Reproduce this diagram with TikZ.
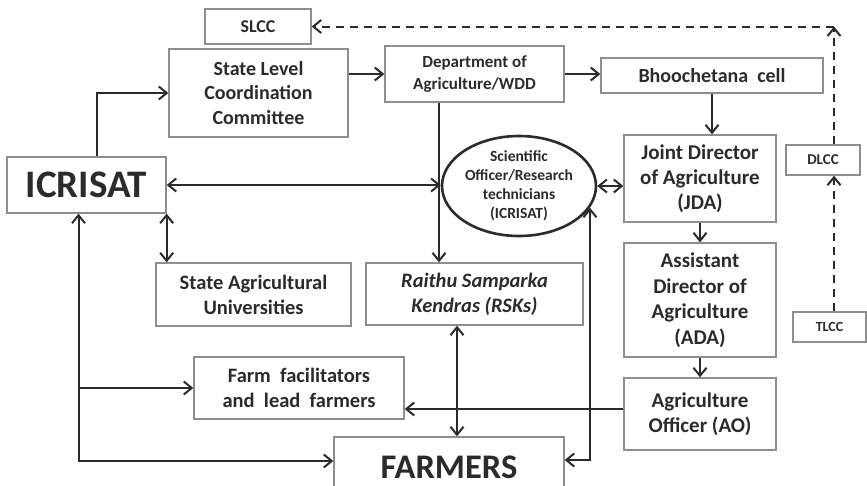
\documentclass[tikz,border=0pt]{standalone}
\usepackage{fontspec}
\setmainfont{Carlito}
\usetikzlibrary{arrows.meta,shapes.geometric}
\definecolor{ink}{HTML}{2B2B2B}
\definecolor{rim}{HTML}{8E8E8E}
\begin{document}
\begin{tikzpicture}[x=1pt,y=-1pt,>={Straight Barb[length=8pt,width=13pt]},
	box/.style={draw=rim,line width=1.3pt,text=ink,align=center,inner sep=0pt},
	txt/.style 2 args={font=\bfseries\fontsize{#1}{#2}\selectfont},
	link/.style={draw=ink,line width=2pt},
	dlink/.style={link,dash pattern=on 8pt off 6pt}]
	\useasboundingbox (0,0) rectangle (867,485);
	\node[box,txt={18}{21},minimum width=106,minimum height=35] (slcc) at (258,26.5) {SLCC};
	\node[box,txt={20}{24.5},minimum width=179,minimum height=88] (slc) at (258.5,93) {State Level\\Coordination\\Committee};
	\node[box,txt={17}{22.5},minimum width=179,minimum height=56] (doa) at (474.5,74) {Department of\\Agriculture/WDD};
	\node[box,txt={20}{24},minimum width=222,minimum height=35] (bhoo) at (712,75.5) {Bhoochetana\ \ cell};
	\node[box,txt={39}{44},minimum width=159,minimum height=56] (icrisat) at (86.5,185) {ICRISAT};
	\node[ellipse,draw=ink,line width=2.6pt,text=ink,align=center,inner xsep=-8pt,inner ysep=-4pt,
		minimum width=154,minimum height=100,txt={15.5}{19}] (sci) at (519,186) {Scientific\\Officer/Research\\technicians\\(ICRISAT)};
	\node[box,txt={21}{25},minimum width=152,minimum height=87] (jda) at (700,178.5) {Joint Director\\of Agriculture\\(JDA)};
	\node[box,txt={15}{18},minimum width=74,minimum height=30] (dlcc) at (823,160) {DLCC};
	\node[box,txt={20.5}{25},minimum width=195,minimum height=63] (sau) at (253.5,294.5) {State Agricultural\\Universities};
	\node[box,font=\bfseries\itshape\fontsize{20.5}{25}\selectfont,minimum width=217,minimum height=62] (rsk) at (474.5,294) {Raithu Samparka\\Kendras (RSKs)};
	\node[box,txt={21}{25.5},minimum width=152,minimum height=114] (ada) at (700,300) {Assistant\\Director of\\Agriculture\\(ADA)};
	\node[box,txt={14}{17},minimum width=73,minimum height=30] (tlcc) at (829.5,327) {TLCC};
	\node[box,txt={20.5}{25},minimum width=210,minimum height=62] (ff) at (299,388) {Farm\ \ facilitators\\and\ \ lead\ \ farmers};
	\node[box,txt={21}{25.5},minimum width=152,minimum height=72] (ao) at (700,414) {Agriculture\\Officer (AO)};
	\node[box,txt={34.5}{40},text height=32pt,text depth=0pt,minimum width=230,minimum height=50] (farmers) at (449,462) {FARMERS};
	\draw[link,->] ([xshift=10.5pt]icrisat.north) |- (slc.west);
	\draw[link,->] (slc.east |- doa.west) -- (doa.west);
	\draw[link,->] (doa.east) -- (doa.east -| bhoo.west);
	\draw[link,->] (bhoo.south) -- (bhoo.south |- jda.north);
	\draw[link,<->] (icrisat.east) -- (icrisat.east -| sci.west);
	\draw[link,<->] (sci.east) -- (sci.east -| jda.west);
	\draw[link,->] ([xshift=-35.5pt]doa.south) -- ([xshift=-35.5pt]doa.south |- rsk.north);
	\draw[link,<->] (icrisat.south east) -- (icrisat.south east |- sau.north);
	\draw[link,<->] ([xshift=-8pt]icrisat.south) |- ([yshift=1pt]farmers.west);
	\draw[link,->] ([xshift=-8pt]icrisat.south |- ff.west) -- (ff.west);
	\draw[link,->] ([yshift=5pt]ao.west) -- ([yshift=5pt]ao.west -| ff.east);
	\draw[link,<->] ([xshift=-17.5pt]rsk.south) -- ([xshift=-17.5pt]rsk.south |- farmers.north);
	\draw[link,<->] (sci.-17) |- ([yshift=2pt]farmers.east);
	\draw[link,->] (jda.south) -- (ada.north);
	\draw[link,->] (ada.south) -- (ao.north);
	\coordinate (bend) at ([xshift=11pt]dlcc.north |- slcc.east);
	\draw[dlink,->] ([xshift=11pt]dlcc.south |- tlcc.north) -- ([xshift=11pt]dlcc.south);
	\draw[dlink,->] ([xshift=11pt]dlcc.north) -- (bend);
	\draw[dlink,->] (bend) -- (slcc.east);
\end{tikzpicture}
\end{document}
